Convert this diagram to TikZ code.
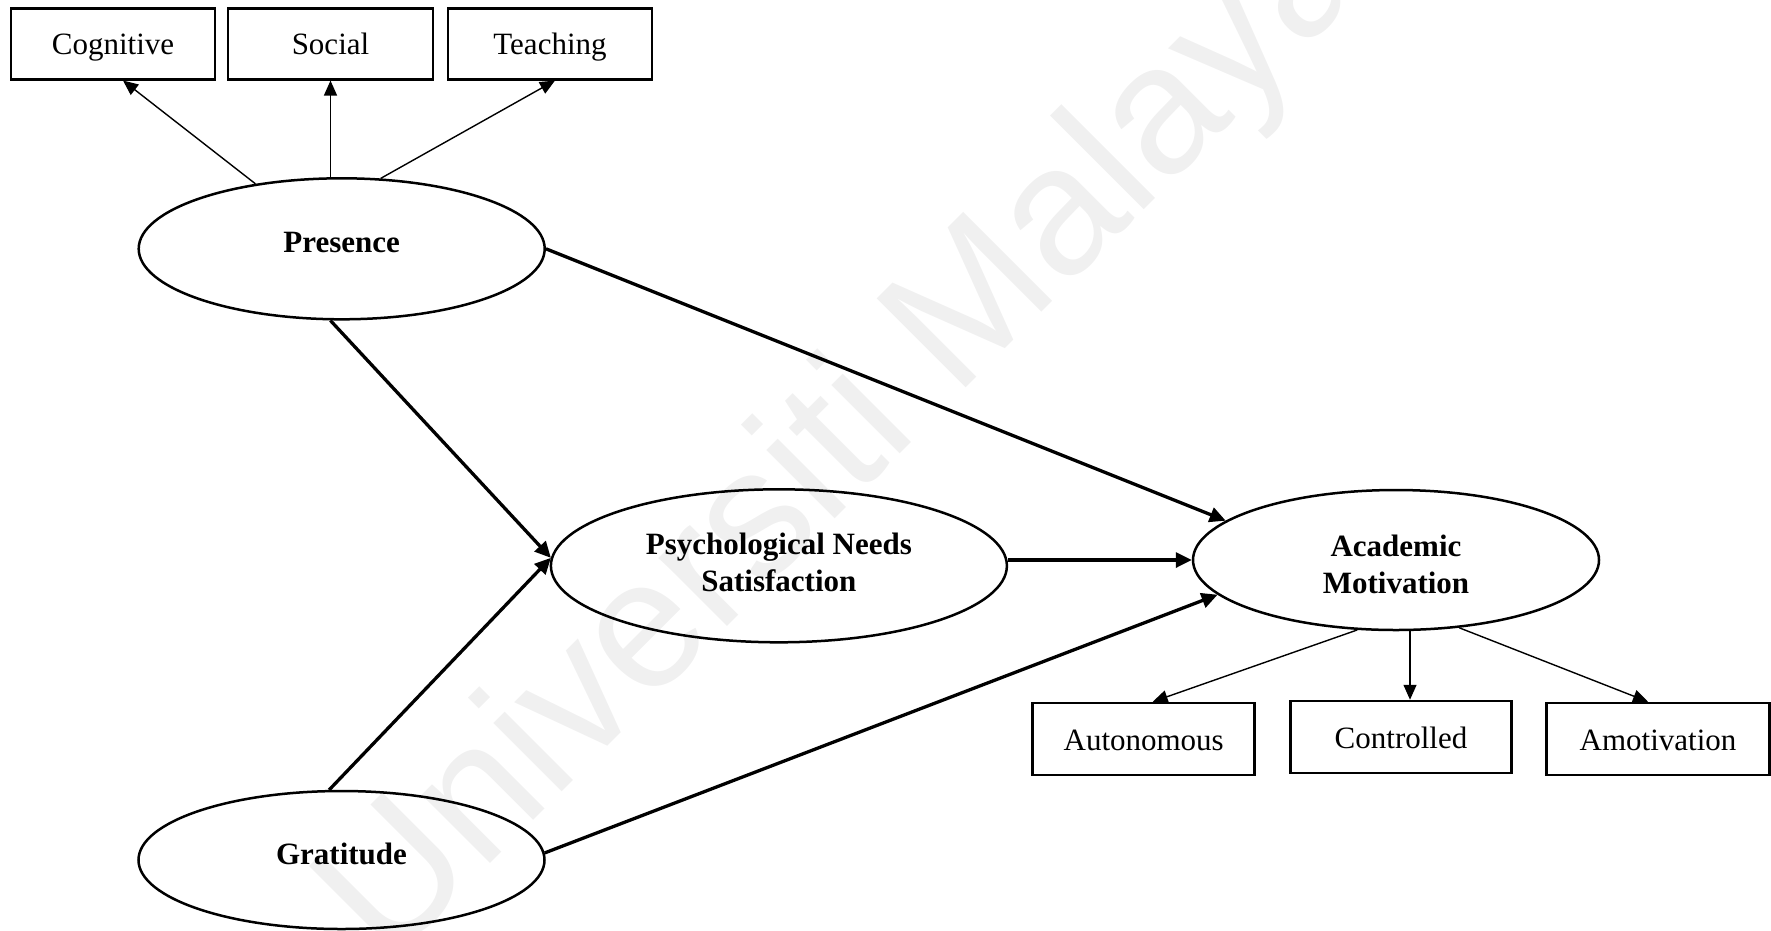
\documentclass[tikz,border=0pt]{standalone}
\usepackage{fontspec}
\setmainfont{Liberation Serif}
\newfontfamily\wmfont{Liberation Sans}
\usetikzlibrary{arrows.meta,shapes.geometric,calc}

\begin{document}
\begin{tikzpicture}[x=1pt,y=-1pt,
  lbl/.style={font=\fontsize{31}{36}\selectfont},
  indicator/.style={draw, rectangle, line width=2.5pt, inner sep=0pt,
    minimum height=71pt, text height=22pt, text depth=0pt, lbl},
  latent/.style={draw, ellipse, line width=2.5pt, inner sep=0pt, align=center,
    font=\bfseries\fontsize{31}{37}\selectfont},
  loadarrow/.style={line width=1.4pt, -{Triangle[length=15pt,width=13pt]}},
  patharrow/.style={line width=3.3pt, -{Triangle[length=16pt,width=15pt]}},
  watermark/.style={rotate=45, anchor=base west, inner sep=0pt, text=black!6,
    font=\wmfont\fontsize{183}{183}\selectfont}]

\useasboundingbox (0,0) rectangle (1771,930);

% faint background lettering
\begin{scope}
  \clip (0,0) rectangle (1771,930);
  \node[watermark] (wm) at (388,966) {Universiti Malaya};
\end{scope}

% indicators of presence
\node[indicator, minimum width=204pt] (Cognitive) at (113,43.8) {Cognitive};
\node[indicator, minimum width=205pt] (Social) at (330.5,43.8) {Social};
\node[indicator, minimum width=204pt] (Teaching) at (550,43.8) {Teaching};

% latent constructs
\node[latent, minimum width=406pt, minimum height=141pt, text depth=12pt]
  (Presence) at (341.7,248.8) {Presence};
\node[latent, minimum width=406pt, minimum height=138pt, text depth=12pt]
  (Gratitude) at (341.5,860) {Gratitude};
\node[latent, minimum width=456pt, minimum height=153pt, text height=52pt, text depth=0pt]
  (PNS) at (778.9,565.8) {Psychological Needs\\Satisfaction};
\node[latent, minimum width=406pt, minimum height=140pt, text height=66pt, text depth=0pt]
  (AM) at (1396,560) {Academic\\Motivation};

% indicators of academic motivation
\node[indicator, minimum width=222pt, minimum height=72pt] (Autonomous) at (1143.7,739) {Autonomous};
\node[indicator, minimum width=221pt, minimum height=72pt] (Controlled) at (1401,737) {Controlled};
\node[indicator, minimum width=223pt, minimum height=72pt] (Amotivation) at (1658,739) {Amotivation};

% measurement arrows
\draw[loadarrow] (Presence.143.8) -- ($(Cognitive.south)+(10,0)$);
\draw[loadarrow] (Presence.north -| Social.south) -- (Social.south);
\draw[loadarrow] (Presence.61.8) -- ($(Teaching.south)+(5,0)$);

\draw[loadarrow] (AM.-119.2) -- ($(Autonomous.north)+(9,0)$);
\coordinate (ctip) at ($(Controlled.north)+(9,0)$);
\draw[loadarrow] (ctip |- AM.south) -- (ctip);
\draw[loadarrow] (AM.-47) -- ($(Amotivation.north)+(-10,0)$);

% structural paths
\draw[patharrow] (Presence.east) -- (AM.167);
\draw[patharrow] (Presence.-99.5) -- (PNS.178);
\draw[patharrow] (Gratitude.100.5) -- (PNS.178.7);
\draw[patharrow] (Gratitude.2) -- (AM.191);
\draw[patharrow] (PNS.east |- AM.west) -- (AM.west);

\end{tikzpicture}
\end{document}
